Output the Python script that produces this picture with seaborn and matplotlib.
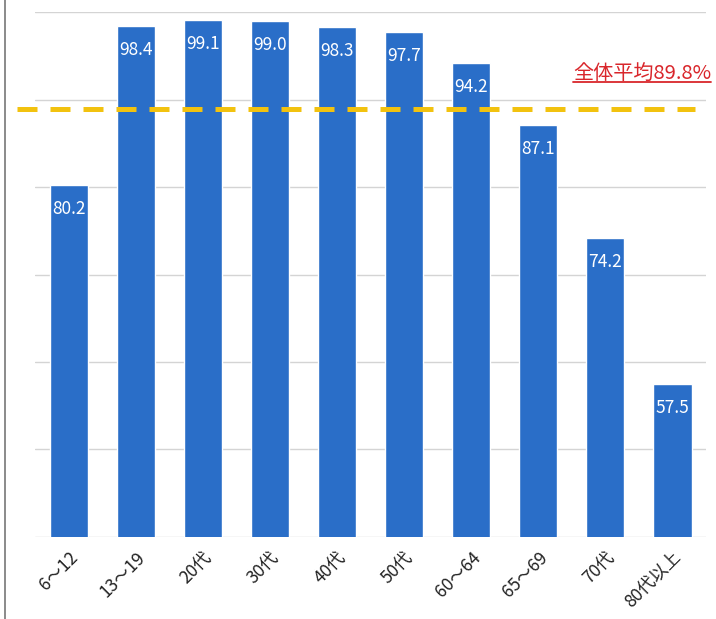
import matplotlib.pyplot as plt
import matplotlib.lines as mlines
import seaborn as sns
import pandas as pd

sns.set_theme(style="white")
plt.rcParams["font.family"] = ["Noto Sans CJK JP", "DejaVu Sans"]

# data
age_groups = ["6～12", "13～19", "20代", "30代", "40代", "50代",
              "60～64", "65～69", "70代", "80代以上"]
rates = [80.2, 98.4, 99.1, 99.0, 98.3, 97.7, 94.2, 87.1, 74.2, 57.5]
overall_avg = 89.8
avg_label = "全体平均89.8%"

df = pd.DataFrame({"age": age_groups, "rate": rates})

fig = plt.figure(figsize=(7.16, 6.19), dpi=100)
ax = fig.add_axes([0.049, 0.1325, 0.937, 0.848])

sns.barplot(data=df, x="age", y="rate", color="#2a6ec8", saturation=1,
            width=0.57, ax=ax, zorder=2)

ax.set_ylim(40, 100)
ax.set_xlim(-0.5, 9.5)
ax.set_yticks(range(40, 101, 10))
ax.set_yticklabels([])
ax.tick_params(axis="y", length=0)
ax.grid(axis="y", color="#d4d4d4", linewidth=1, zorder=0)
ax.set_axisbelow(True)
for s in ax.spines.values():
    s.set_visible(False)
ax.set_xlabel("")
ax.set_ylabel("")

# value labels inside the bars
for i, v in enumerate(rates):
    ax.text(i, v - 1.7, f"{v:.1f}", ha="center", va="top",
            color="white", fontsize=12.5, zorder=3)

# x tick labels rotated
ax.set_xticks(range(len(age_groups)))
ax.set_xticklabels(age_groups, rotation=45, ha="right",
                   rotation_mode="anchor", fontsize=12.5, color="#222222")
ax.tick_params(axis="x", length=0, pad=8)

# overall average dashed line
ax.axhline(overall_avg - 0.9, xmin=-0.027, xmax=0.983, color="#f2c20f",
           linewidth=3.6, linestyle=(0, (4.0, 2.6)), clip_on=False, zorder=4)

# label with underline
txt = ax.text(9.58, 91.8, avg_label, ha="right", va="bottom",
              color="#d9262b", fontsize=14.5, zorder=5)
fig.canvas.draw()
bb = txt.get_window_extent().transformed(fig.transFigure.inverted())
fig.add_artist(mlines.Line2D([bb.x0, bb.x1], [bb.y0 + 0.003, bb.y0 + 0.003],
                             color="#d9262b", linewidth=1.3))

# thin frame line at the left edge
fig.add_artist(mlines.Line2D([0.007, 0.007], [0, 1], color="#777777",
                             linewidth=1.2))

plt.savefig("out.png", dpi=100)
